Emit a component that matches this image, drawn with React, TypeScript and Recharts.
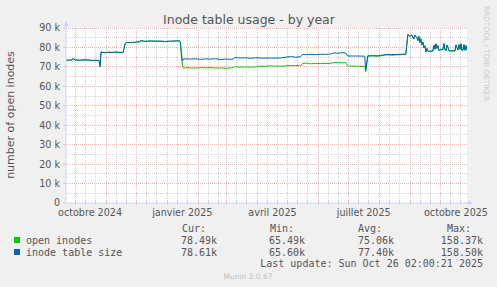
import { CartesianGrid, Line, LineChart, ReferenceLine, XAxis, YAxis } from "recharts";

const DAY = 86400000;
const ORIGIN = Date.UTC(2024, 9, 1); // day 0 = 1 Oct 2024

// days since 1 Oct 2024
const days = [
  -9, -5, -3, -2, 0, 5, 9, 13, 17, 21, 24, 25, 26, 29, 33, 37, 41, 45, 48, 50,
  52, 56, 60, 64, 66, 70, 75, 80, 85, 90, 95, 100, 104, 105, 106, 107, 108, 111, 115, 120,
  125, 130, 135, 140, 145, 150, 155, 158, 159, 165, 170, 175, 180, 183, 190, 195, 200, 205, 210, 215,
  220, 225, 227, 231, 235, 240, 245, 250, 255, 258, 262, 266, 270, 272, 277, 283, 289, 290, 292, 297,
  302, 306, 311, 316, 321, 326, 330, 332, 334, 336, 338, 339, 341, 342, 343, 344, 345, 346, 347, 348,
  349, 350, 351, 352, 353, 357, 358, 359, 360, 361, 362, 363, 365, 367, 368, 369, 370, 371, 372, 373,
  377, 379, 380, 381, 382, 383, 384, 385, 386, 387, 388, 389, 390, 391,
];

// thousands of inodes
const openInodes = [
  73.4, 73.5, 73.7, 74.4, 73.5, 73.4, 73.7, 73.6, 73.3, 73.4, 73.2, 70.2, 77.6, 77.3, 77.6, 77.4, 77.7, 77.4, 77.5, 82.0,
  82.6, 82.5, 82.6, 83.2, 83.5, 83.1, 83.2, 83.3, 83.1, 83.0, 83.2, 83.3, 83.4, 83.0, 76.0, 71.5, 69.4, 69.6, 69.5, 69.4,
  69.6, 69.5, 69.7, 69.4, 69.5, 69.3, 69.5, 69.6, 70.1, 69.9, 70.0, 69.8, 70.0, 70.4, 70.3, 70.5, 70.4, 70.4, 70.5, 70.7,
  70.6, 70.6, 71.8, 71.9, 71.6, 71.8, 71.7, 71.8, 71.8, 72.2, 72.3, 72.1, 72.2, 70.4, 70.4, 70.3, 70.3, 67.5, 75.5, 75.6,
  75.5, 75.8, 76.2, 76.0, 76.2, 76.3, 76.5, 86.5, 85.6, 86.3, 84.5, 86.0, 85.2, 83.6, 85.5, 82.7, 84.2, 81.5, 82.6, 80.0,
  80.7, 77.8, 79.3, 78.0, 77.9, 78.1, 81.0, 79.2, 81.8, 79.6, 80.8, 78.4, 78.8, 78.9, 81.9, 79.1, 78.2, 81.1, 80.2, 78.2,
  78.2, 78.2, 81.2, 79.8, 78.7, 81.3, 79.1, 81.7, 78.4, 78.5, 81.3, 78.5, 80.8, 78.5,
];

const tableSize = [
  73.5, 73.4, 73.6, 74.2, 73.6, 73.4, 73.6, 73.5, 73.3, 73.4, 73.2, 70.0, 77.8, 77.3, 77.4, 77.5, 77.6, 77.4, 77.5, 82.0,
  82.6, 82.5, 82.7, 82.8, 83.4, 83.1, 83.4, 83.2, 83.3, 83.1, 83.2, 83.3, 83.4, 83.0, 78.0, 73.0, 74.0, 74.1, 74.0, 74.2,
  73.9, 74.1, 74.0, 74.2, 73.8, 74.0, 73.9, 74.0, 74.8, 74.6, 74.7, 74.4, 74.7, 74.6, 74.5, 74.6, 74.5, 74.6, 75.0, 75.3,
  75.0, 75.2, 76.5, 76.3, 76.5, 76.3, 76.5, 76.4, 76.6, 77.2, 77.0, 77.3, 77.1, 75.6, 75.6, 75.6, 75.5, 68.4, 75.7, 75.8,
  75.7, 76.0, 76.4, 76.3, 76.4, 76.5, 76.5, 86.8, 85.8, 86.5, 84.3, 86.3, 85.0, 83.5, 85.8, 82.5, 84.5, 81.2, 82.8, 79.8,
  81.0, 77.6, 79.5, 78.2, 78.0, 78.2, 81.3, 79.0, 82.0, 79.5, 81.0, 78.5, 79.0, 78.8, 82.1, 79.0, 78.3, 81.3, 80.0, 78.3,
  78.3, 78.3, 81.3, 80.0, 78.8, 81.5, 79.0, 82.0, 78.5, 78.6, 81.5, 78.6, 81.0, 78.6,
];

const yMajor = [0, 10, 20, 30, 40, 50, 60, 70, 80, 90];
const yMinor = [5, 15, 25, 35, 45, 55, 65, 75, 85];

const xLabelDays = [15, 107, 197, 288, 380];
const xLabels = ["octobre 2024", "janvier 2025", "avril 2025", "juillet 2025", "octobre 2025"];

const legendRows = [
  { name: "open inodes", color: "#00cc00", cur: "78.49k", min: "65.49k", avg: "75.06k", max: "158.37k" },
  { name: "inode table size", color: "#0066b3", cur: "78.61k", min: "65.60k", avg: "77.40k", max: "158.50k" },
];

const X_MIN = -9;
const X_MAX = 391;

const monthStarts = Array.from({ length: 13 }, (_, i) => (Date.UTC(2024, 9 + i, 1) - ORIGIN) / DAY);
const minorDays = monthStarts.flatMap((d) => [d + 10, d + 20]).filter((d) => d <= X_MAX);

const rows = days.map((day, i) => ({ day, open: openInodes[i], size: tableSize[i] }));

const MAJOR = "#ebb9b9";
const MINOR = "#d4d4d4";
const AXIS = "#cfd6f8";
const FONT = "#555555";
const SANS = "DejaVu Sans, sans-serif";
const MONO = "DejaVu Sans Mono, monospace";

export default function App() {
  return (
    <div style={{ position: "absolute", left: 0, top: 0, width: 497, height: 287, background: "#f0f0f0" }}>
      <LineChart width={497} height={287} data={rows} margin={{ top: 28, right: 30, bottom: 64, left: 0 }}>
        <CartesianGrid fill="#ffffff" horizontal={false} vertical={false} />
        {yMinor.map((v) => (
          <ReferenceLine key={"ym" + v} y={v} stroke={MINOR} strokeDasharray="1 1" shapeRendering="crispEdges" />
        ))}
        {minorDays.map((d) => (
          <ReferenceLine key={"xm" + d} x={d} stroke={MINOR} strokeDasharray="1 1" shapeRendering="crispEdges" />
        ))}
        {yMajor.slice(1).map((v) => (
          <ReferenceLine key={"yM" + v} y={v} stroke={MAJOR} strokeDasharray="1 1" shapeRendering="crispEdges" />
        ))}
        {monthStarts.map((d) => (
          <ReferenceLine key={"xM" + d} x={d} stroke={MAJOR} strokeDasharray="1 1" shapeRendering="crispEdges" />
        ))}
        {monthStarts.map((d) => (
          <ReferenceLine
            key={"tM" + d}
            segment={[{ x: d, y: -1.2 }, { x: d, y: 1.3 }]}
            ifOverflow="visible"
            stroke={MAJOR}
            shapeRendering="crispEdges"
          />
        ))}
        {minorDays.map((d) => (
          <ReferenceLine
            key={"tm" + d}
            segment={[{ x: d, y: -1.2 }, { x: d, y: 1.3 }]}
            ifOverflow="visible"
            stroke={MINOR}
            shapeRendering="crispEdges"
          />
        ))}
        <XAxis
          type="number"
          dataKey="day"
          domain={[X_MIN, X_MAX]}
          allowDataOverflow
          ticks={xLabelDays}
          interval={0}
          tickFormatter={(v) => xLabels[xLabelDays.indexOf(Number(v))] ?? ""}
          tickLine={false}
          tickSize={4}
          tickMargin={2}
          height={20}
          axisLine={{ stroke: AXIS }}
          tick={{ fill: FONT, fontSize: 9.6, fontFamily: SANS }}
        />
        <YAxis
          type="number"
          domain={[0, 90]}
          allowDataOverflow
          ticks={yMajor}
          interval={0}
          width={66}
          tickFormatter={(v) => (Number(v) === 0 ? "0" : `${v} k`)}
          tickSize={3}
          tickMargin={3}
          tickLine={{ stroke: MAJOR }}
          axisLine={{ stroke: AXIS }}
          tick={{ fill: FONT, fontSize: 9.6, fontFamily: SANS }}
        />
        <Line type="linear" dataKey="open" stroke="#00cc00" strokeWidth={1} dot={false} isAnimationActive={false} />
        <Line type="linear" dataKey="size" stroke="#0066b3" strokeWidth={1} dot={false} isAnimationActive={false} />
      </LineChart>

      <svg
        width={497}
        height={287}
        style={{ position: "absolute", left: 0, top: 0, pointerEvents: "none" }}
      >
        <line x1={66} y1={28} x2={66} y2={24} stroke={AXIS} />
        <polygon points="63.5,26 68.5,26 66,20.5" fill={AXIS} />
        <line x1={467} y1={203} x2={470} y2={203} stroke={AXIS} />
        <polygon points="468,200.5 468,205.5 473.5,203" fill={AXIS} />

        <text x={249} y={24} textAnchor="middle" fontFamily={SANS} fontSize={12.5} fill={FONT}>
          Inode table usage - by year
        </text>
        <text
          x={13.5}
          y={115}
          transform="rotate(-90 13.5 115)"
          textAnchor="middle"
          fontFamily={SANS}
          fontSize={11}
          fill={FONT}
        >
          number of open inodes
        </text>
        <text
          x={483.5}
          y={53.5}
          transform="rotate(90 483.5 53.5)"
          textAnchor="middle"
          fontFamily={SANS}
          fontSize={7.4}
          fill="#cccccc"
        >
          RRDTOOL / TOBI OETIKER
        </text>

        <g fontFamily={MONO} fontSize={10} fill={FONT}>
          <text x={182} y={232}>Cur:</text>
          <text x={270} y={232}>Min:</text>
          <text x={358} y={232}>Avg:</text>
          <text x={447} y={232}>Max:</text>
          {legendRows.map((r, i) => {
            const y = 243.5 + i * 12;
            return (
              <g key={r.name}>
                <rect x={14} y={y - 6.5} width={6} height={6} fill={r.color} />
                <text x={26} y={y}>{r.name}</text>
                <text x={217} y={y} textAnchor="end">{r.cur}</text>
                <text x={305} y={y} textAnchor="end">{r.min}</text>
                <text x={394} y={y} textAnchor="end">{r.avg}</text>
                <text x={483} y={y} textAnchor="end">{r.max}</text>
              </g>
            );
          })}
          <text x={483} y={267} textAnchor="end">Last update: Sun Oct 26 02:00:21 2025</text>
        </g>
        <text x={248} y={279} textAnchor="middle" fontFamily={SANS} fontSize={7.5} fill="#c0c0c0">
          Munin 2.0.67
        </text>
      </svg>
    </div>
  );
}
